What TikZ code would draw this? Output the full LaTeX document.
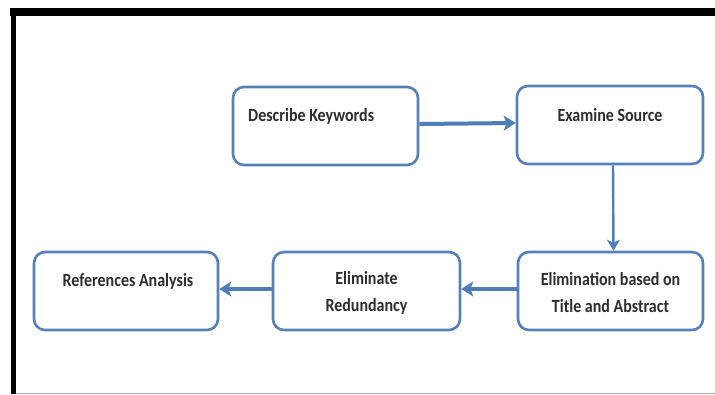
\documentclass[tikz,border=0pt]{standalone}
\usepackage{fontspec}
\setmainfont[FakeStretch=0.86]{Carlito}
\usetikzlibrary{arrows.meta}
\definecolor{boxblue}{RGB}{86,128,182}
\definecolor{arrowblue}{RGB}{79,125,182}
\definecolor{txtgray}{RGB}{45,45,45}
\tikzset{
  flowbox/.style={draw=boxblue, line width=2.6pt, rounded corners=11pt, fill=white,
    minimum width=#1, minimum height=78pt, inner sep=0pt},
  flowbox/.default=185pt,
  flowtext/.style={text=txtgray, font=\bfseries\fontsize{18.6}{27}\selectfont, align=center, inner sep=0pt},
  thickarrow/.style={draw=arrowblue, line width=4pt, -{Stealth[length=12pt,width=15pt,inset=3pt]}},
  thinarrow/.style={draw=arrowblue, line width=2.4pt, -{Stealth[length=11pt,width=13pt,inset=3pt]}}
}
\begin{document}
\begin{tikzpicture}[x=1pt,y=-1pt]
\useasboundingbox (0,0) rectangle (715,394);
\fill[white] (0,0) rectangle (715,394);
% frame
\fill[black] (10,8) rectangle (715,16);
\fill[black] (11,8) rectangle (16,394);
\draw[black!35, line width=1pt] (16,393) -- (715,393);
% boxes
\node[flowbox=185pt] (desc) at (325.5,126) {};
\node[flowbox=186pt] (exam) at (610,125) {};
\node[flowbox=185pt] (elim) at (610.5,291) {};
\node[flowbox=187pt] (redun) at (366.5,291) {};
\node[flowbox=184pt] (refs) at (126,291) {};
% texts
\node[flowtext, anchor=west] (desc-t) at (248,116) {Describe Keywords};
\node[flowtext] (exam-t) at (610,115) {Examine Source};
\node[flowtext] (elim-t) at (610.5,293) {Elimination based on\\Title and Abstract};
\node[flowtext] (redun-t) at (366.5,293) {Eliminate\\Redundancy};
\node[flowtext] (refs-t) at (128,281) {References Analysis};
% arrows
\draw[thickarrow] ([yshift=2pt]desc.east) -- ([yshift=2pt]exam.west);
\draw[thinarrow] ([xshift=3pt]exam.south) -- ([xshift=3pt]elim.north);
\draw[thickarrow] ([yshift=2pt]elim.west) -- ([yshift=2pt]redun.east);
\draw[thickarrow] ([yshift=2pt]redun.west) -- ([yshift=2pt]refs.east);
\end{tikzpicture}
\end{document}
